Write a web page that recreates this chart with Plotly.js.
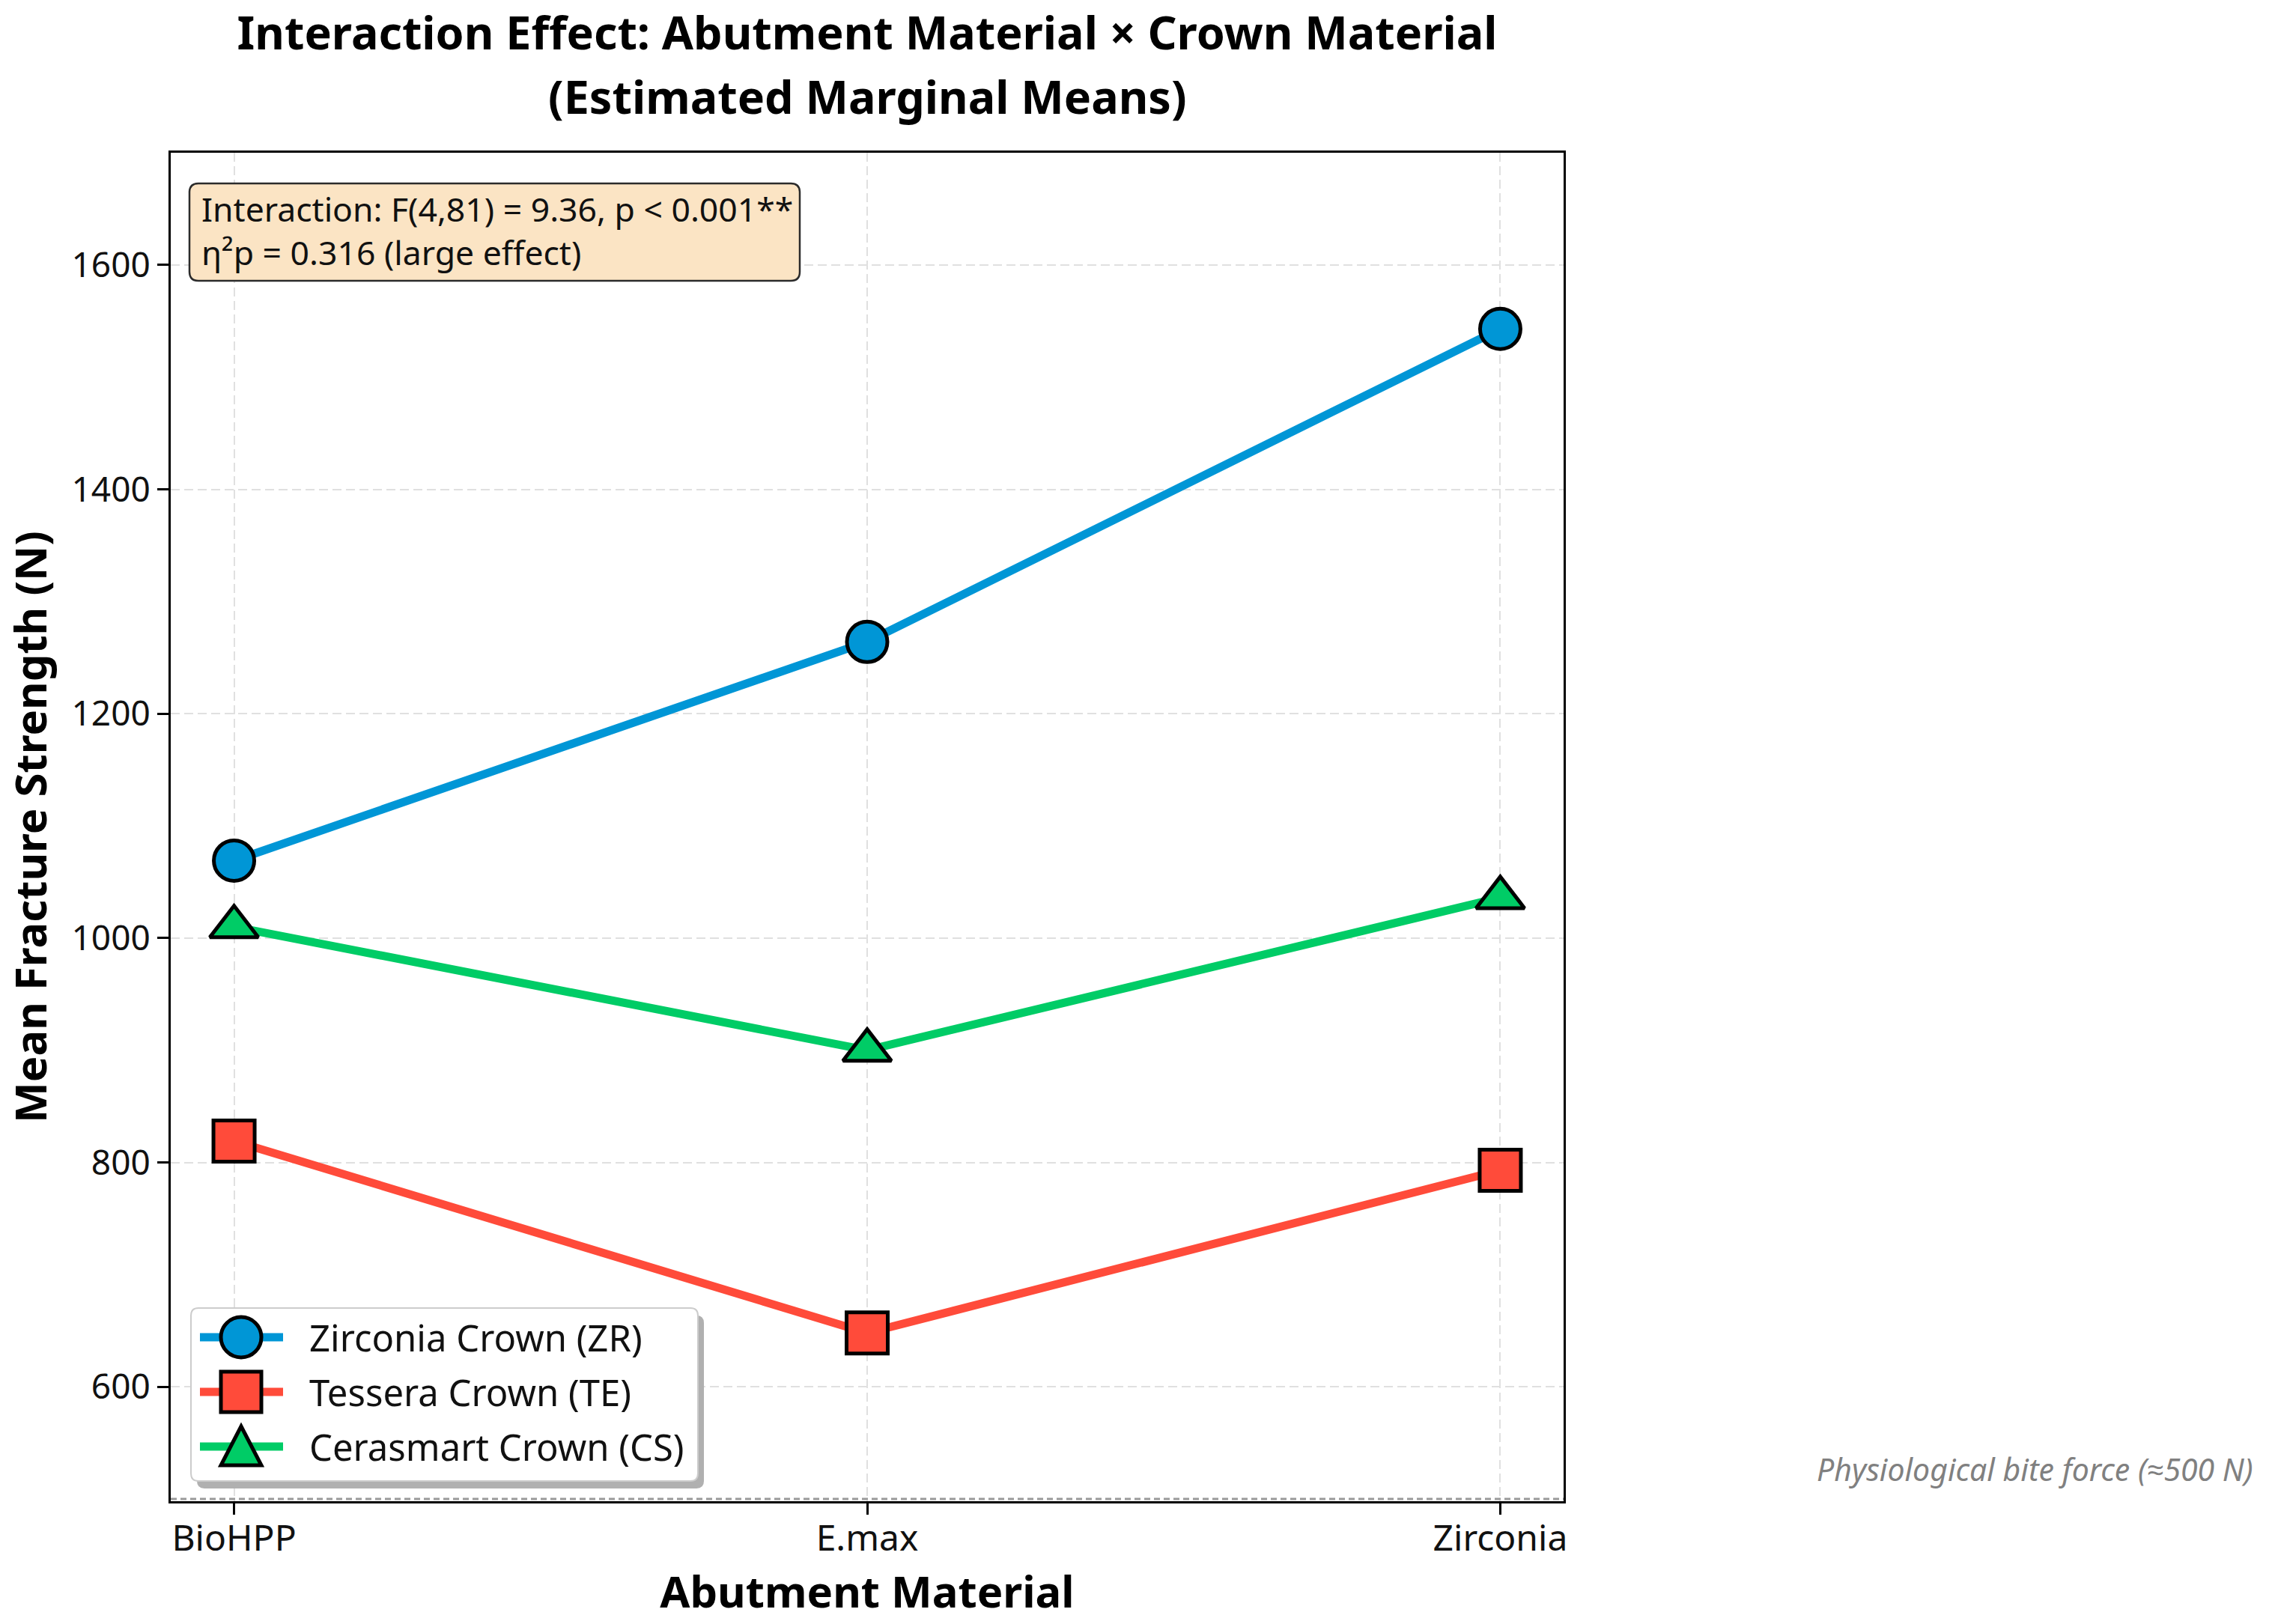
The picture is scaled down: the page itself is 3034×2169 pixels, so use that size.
<!DOCTYPE html>
<html>
<head>
<meta charset="utf-8">
<script src="https://cdn.plot.ly/plotly-3.0.1.min.js"></script>
<style>html,body{margin:0;padding:0;background:#fff;}</style>
</head>
<body>
<div id="chart" style="width:3034px;height:2169px;"></div>
<script>
// ---- data ----
const abutments = ['BioHPP', 'E.max', 'Zirconia'];
const zrMeans = [1069, 1264, 1543];
const teMeans = [819, 648, 793];
const csMeans = [1010, 900, 1036];
const seriesNames = ['Zirconia Crown (ZR)', 'Tessera Crown (TE)', 'Cerasmart Crown (CS)'];
const seriesColors = ['#0096D6', '#FF4B3A', '#00CC66'];
const seriesSymbols = ['circle', 'square', 'triangle-up'];
const yTickVals = [600, 800, 1000, 1200, 1400, 1600];
const biteForce = 500;
const titleLine1 = 'Interaction Effect: Abutment Material × Crown Material';
const titleLine2 = '(Estimated Marginal Means)';
const statLine1 = 'Interaction: F(4,81) = 9.36, p &lt; 0.001**';
const statLine2 = 'η²p = 0.316 (large effect)';
const biteLabel = 'Physiological bite force (≈500 N)';

// ---- layout helpers (pixel -> paper) ----
const W = 3034, H = 2169;
const L = 228, R = 2088, T = 204, B = 2005;
const px = x => (x - L) / (R - L);
const py = y => (B - y) / (B - T);
const FONT = 'Noto Sans, Open Sans, DejaVu Sans, sans-serif';

const seriesValues = [zrMeans, teMeans, csMeans];
const markerSizes = [54, 55, 56];

const traces = seriesValues.map((vals, i) => ({
  type: 'scatter',
  mode: 'lines+markers',
  name: seriesNames[i],
  x: abutments,
  y: vals,
  line: {color: seriesColors[i], width: 11},
  marker: {symbol: seriesSymbols[i], size: markerSizes[i], color: seriesColors[i],
           line: {color: '#000000', width: 5}},
  cliponaxis: false
}));

function roundRect(x0, y0, x1, y1, r) {
  const P = (x, y) => px(x).toFixed(5) + ',' + py(y).toFixed(5);
  return 'M' + P(x0 + r, y0) + ' L' + P(x1 - r, y0) + ' Q' + P(x1, y0) + ' ' + P(x1, y0 + r) +
    ' L' + P(x1, y1 - r) + ' Q' + P(x1, y1) + ' ' + P(x1 - r, y1) +
    ' L' + P(x0 + r, y1) + ' Q' + P(x0, y1) + ' ' + P(x0, y1 - r) +
    ' L' + P(x0, y0 + r) + ' Q' + P(x0, y0) + ' ' + P(x0 + r, y0) + ' Z';
}

const shapes = [];
// bite force reference line
shapes.push({type: 'line', xref: 'paper', x0: 0, x1: 1, yref: 'y', y0: biteForce, y1: biteForce,
  line: {color: '#9a9a9a', width: 3, dash: '8px,5px'}, layer: 'above'});
// stats box
shapes.push({type: 'path', xref: 'paper', yref: 'paper', path: roundRect(253, 245, 1068, 375, 12),
  fillcolor: '#FBE4C4', line: {color: '#2b2b2b', width: 2.5}, layer: 'above'});
// legend shadow and box
shapes.push({type: 'path', xref: 'paper', yref: 'paper', path: roundRect(263, 1757, 940, 1988, 10),
  fillcolor: '#b0b0b0', line: {width: 0}, layer: 'above'});
shapes.push({type: 'path', xref: 'paper', yref: 'paper', path: roundRect(255, 1747, 932, 1978, 10),
  fillcolor: '#ffffff', line: {color: '#cccccc', width: 2}, layer: 'above'});

const rowY = [1786, 1859, 1932];
const mx = 322;
const annotations = [];
rowY.forEach((y, i) => {
  shapes.push({type: 'line', xref: 'paper', yref: 'paper', x0: px(267), x1: px(378), y0: py(y), y1: py(y),
    line: {color: seriesColors[i], width: 11}, layer: 'above'});
  if (seriesSymbols[i] === 'circle') {
    shapes.push({type: 'circle', xref: 'paper', yref: 'paper', x0: px(mx - 27), x1: px(mx + 27),
      y0: py(y + 27), y1: py(y - 27), fillcolor: seriesColors[i], line: {color: '#000', width: 5}, layer: 'above'});
  } else if (seriesSymbols[i] === 'square') {
    shapes.push({type: 'rect', xref: 'paper', yref: 'paper', x0: px(mx - 27), x1: px(mx + 27),
      y0: py(y + 27), y1: py(y - 27), fillcolor: seriesColors[i], line: {color: '#000', width: 5}, layer: 'above'});
  } else {
    const P = (x, yy) => px(x).toFixed(5) + ',' + py(yy).toFixed(5);
    shapes.push({type: 'path', xref: 'paper', yref: 'paper',
      path: 'M' + P(mx, y - 27) + ' L' + P(mx + 27, y + 25) + ' L' + P(mx - 27, y + 25) + ' Z',
      fillcolor: seriesColors[i], line: {color: '#000', width: 5}, layer: 'above'});
  }
  annotations.push({xref: 'paper', yref: 'paper', x: px(411), y: py(y), xanchor: 'left', yanchor: 'middle',
    text: seriesNames[i], showarrow: false, font: {family: FONT, size: 49, color: '#111'}});
});

annotations.push({xref: 'paper', yref: 'paper', x: px(267), y: py(308), xanchor: 'left', yanchor: 'middle',
  align: 'left', text: statLine1 + '<br>' + statLine2, showarrow: false,
  font: {family: FONT, size: 44.5, color: '#111'}});

annotations.push({xref: 'paper', yref: 'paper', x: px(3011), y: py(1962), xanchor: 'right', yanchor: 'middle',
  text: '<i>' + biteLabel + '</i>', showarrow: false, font: {family: FONT, size: 41, color: '#808080'}});

// second title line
annotations.push({xref: 'paper', yref: 'paper', x: px(1158), y: py(128), xanchor: 'center', yanchor: 'middle',
  text: titleLine2, showarrow: false, font: {family: FONT, size: 61, weight: 700, color: '#000'}});

const axisCommon = {
  showline: true, mirror: true, linecolor: '#000', linewidth: 3,
  ticks: 'outside', ticklen: 15, tickwidth: 3, tickcolor: '#000',
  showgrid: true, gridcolor: '#e0e0e0', gridwidth: 2, griddash: '12px,6px',
  zeroline: false, automargin: false
};

const layout = {
  width: W, height: H,
  margin: {l: L, r: W - R, t: T, b: H - B, pad: 0},
  paper_bgcolor: '#fff', plot_bgcolor: '#fff',
  showlegend: false,
  font: {family: FONT, color: '#111'},
  title: {
    text: titleLine1,
    font: {family: FONT, size: 61, weight: 700, color: '#000'},
    x: px(1158), xref: 'paper', xanchor: 'center',
    y: 1 - 45 / H, yref: 'container', yanchor: 'middle'
  },
  xaxis: Object.assign({}, axisCommon, {
    type: 'category', range: [-0.1, 2.1],
    ticklabelstandoff: -10,
    tickfont: {family: FONT, size: 48, color: '#111'},
    title: {text: 'Abutment Material', font: {family: FONT, size: 58, weight: 700, color: '#000'}, standoff: 7}
  }),
  yaxis: Object.assign({}, axisCommon, {
    range: [498, 1700], tickvals: yTickVals,
    tickfont: {family: FONT, size: 46, color: '#111'},
    title: {text: 'Mean Fracture Strength (N)', font: {family: FONT, size: 58, weight: 700, color: '#000'}, standoff: 28}
  }),
  shapes: shapes,
  annotations: annotations
};

Plotly.newPlot('chart', traces, layout, {staticPlot: true, displayModeBar: false});
</script>
</body>
</html>
